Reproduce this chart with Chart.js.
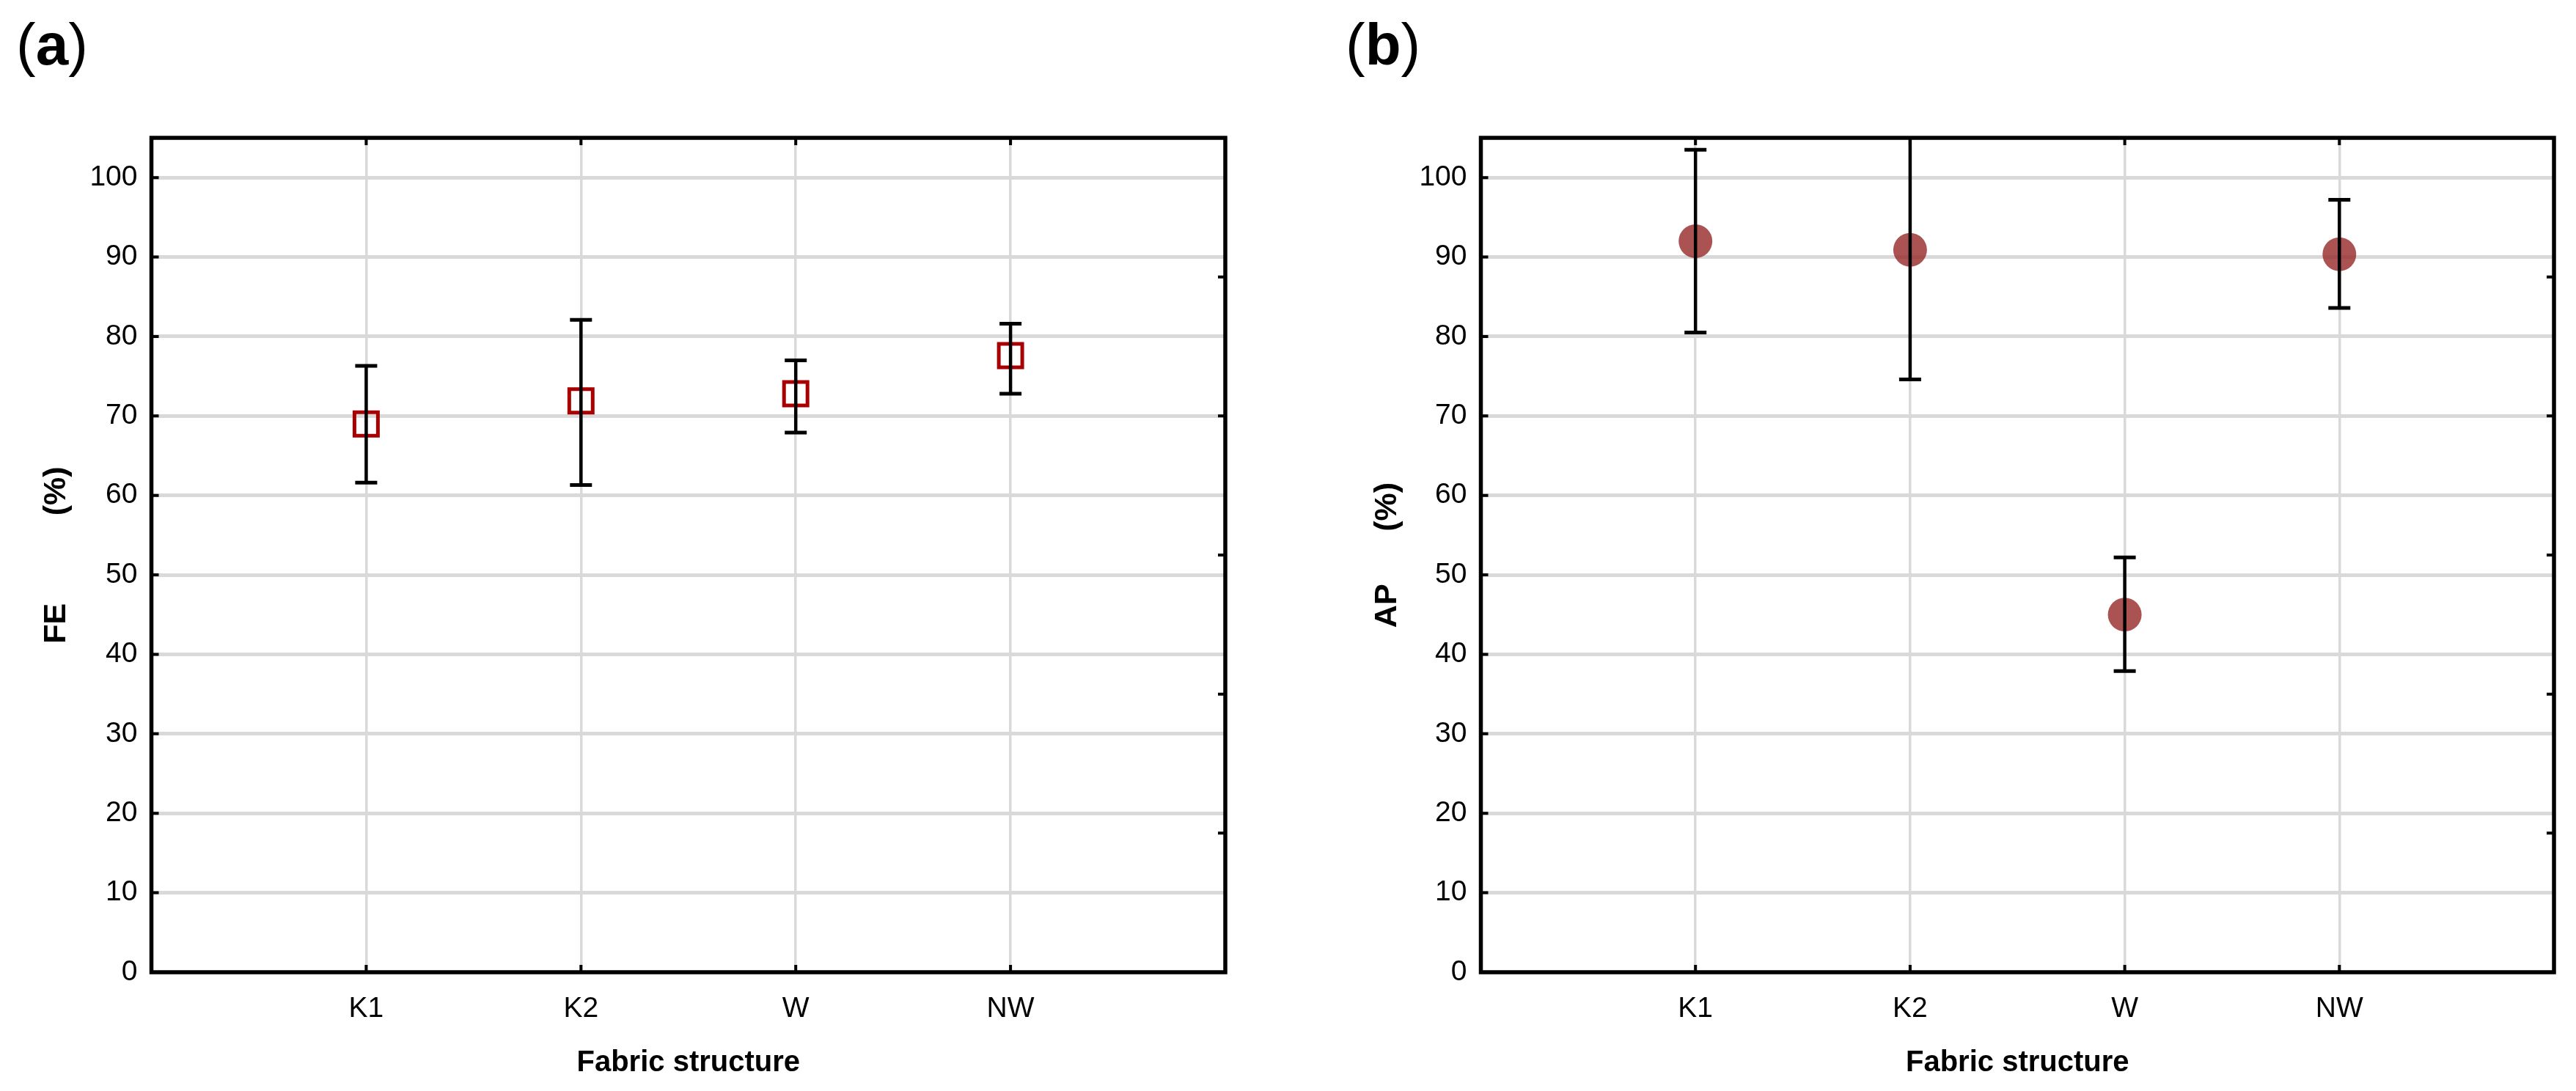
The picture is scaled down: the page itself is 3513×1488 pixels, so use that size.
<!DOCTYPE html>
<html>
<head>
<meta charset="utf-8">
<script src="https://cdn.jsdelivr.net/npm/chart.js@4/dist/chart.umd.min.js"></script>
<style>
  html, body { margin: 0; padding: 0; background: #fff; }
  body { width: 3513px; height: 1488px; position: relative; overflow: hidden; }
  .panel { position: absolute; top: 0; height: 1488px; }
  #wrapA { left: 0; width: 1756px; }
  #wrapB { left: 1756px; width: 1757px; }
  .tag { position: absolute; top: 21px; font-family: "Liberation Sans", Arial, sans-serif; font-size: 80px; line-height: 80px; color: #000; }
  .tag b { font-weight: bold; }
</style>
</head>
<body>
<div class="panel" id="wrapA"><canvas id="chartA"></canvas></div>
<div class="panel" id="wrapB"><canvas id="chartB"></canvas></div>
<div class="tag" style="left:22px">(<b>a</b>)</div>
<div class="tag" style="left:1835px">(<b>b</b>)</div>
<script>
// categories and values
const categories = ["K1", "K2", "W", "NW"];
const feMean  = [69.0, 71.9, 72.8, 77.6];
const feLower = [61.6, 61.3, 67.9, 72.8];
const feUpper = [76.3, 82.1, 77.0, 81.6];
const apMean  = [92.0, 90.9, 45.0, 90.35];
const apLower = [80.5, 74.6, 37.9, 83.6];
const apUpper = [103.5, 107.2, 52.2, 97.2];
const yTicks = [0, 10, 20, 30, 40, 50, 60, 70, 80, 90, 100];
const rightTicks = [17.5, 35, 52.5, 70, 87.5];

const tickFont = { family: "'Liberation Sans Narrow', 'Liberation Sans', Arial, sans-serif", size: 39 };
const titleFont = { family: "'Liberation Sans', Arial, sans-serif", size: 43, weight: "bold", lineHeight: 1 };
const gridColor = "#d9d9d9";

// error bars drawn through the chart's own scales
const errorBars = {
  id: "errorBars",
  afterDatasetsDraw(chart, args, opts) {
    const { ctx, chartArea, scales: { x, y } } = chart;
    ctx.save();
    ctx.beginPath();
    ctx.rect(chartArea.left, chartArea.top, chartArea.width, chartArea.height);
    ctx.clip();
    ctx.strokeStyle = "#000";
    ctx.lineCap = "butt";
    opts.lower.forEach((lo, i) => {
      const px = x.getPixelForValue(i + 1);
      const top = y.getPixelForValue(opts.upper[i]);
      const bot = y.getPixelForValue(lo);
      ctx.lineWidth = 4.5;
      ctx.beginPath();
      ctx.moveTo(px, top);
      ctx.lineTo(px, bot);
      ctx.stroke();
      ctx.lineWidth = 5;
      ctx.beginPath();
      ctx.moveTo(px - 15, top); ctx.lineTo(px + 15, top);
      ctx.moveTo(px - 15, bot); ctx.lineTo(px + 15, bot);
      ctx.stroke();
    });
    ctx.restore();
  }
};

// black frame with inward tick marks
const frame = {
  id: "frame",
  afterDraw(chart) {
    const { ctx, chartArea: a, scales: { x, y } } = chart;
    ctx.save();
    ctx.strokeStyle = "#000";
    ctx.lineWidth = 4;
    ctx.beginPath();
    x.ticks.forEach(t => {
      const px = x.getPixelForValue(t.value);
      ctx.moveTo(px, a.top); ctx.lineTo(px, a.top + 10);
      ctx.moveTo(px, a.bottom); ctx.lineTo(px, a.bottom - 10);
    });
    y.ticks.forEach(t => {
      const py = y.getPixelForValue(t.value);
      ctx.moveTo(a.left, py); ctx.lineTo(a.left + 10, py);
    });
    rightTicks.forEach(v => {
      const py = y.getPixelForValue(v);
      ctx.moveTo(a.right, py); ctx.lineTo(a.right - 10, py);
    });
    ctx.stroke();
    ctx.lineWidth = 5.5;
    ctx.strokeRect(a.left, a.top, a.width, a.height);
    ctx.restore();
  }
};

function makeChart(id, opt) {
  const ctx = document.getElementById(id).getContext("2d");
  return new Chart(ctx, {
    type: "scatter",
    data: {
      datasets: [{
        data: opt.mean.map((v, i) => ({ x: i + 1, y: v })),
        pointStyle: opt.pointStyle,
        pointRadius: opt.radius,
        pointHoverRadius: opt.radius,
        backgroundColor: opt.fill,
        borderColor: opt.stroke,
        borderWidth: opt.borderWidth
      }]
    },
    options: {
      responsive: true,
      maintainAspectRatio: false,
      animation: false,
      layout: { padding: { top: 188, right: opt.padRight, bottom: 0, left: 0 } },
      plugins: {
        legend: { display: false },
        tooltip: { enabled: false },
        errorBars: { lower: opt.lower, upper: opt.upper }
      },
      scales: {
        x: {
          type: "linear",
          min: 0,
          max: 5,
          afterBuildTicks: s => { s.ticks = categories.map((c, i) => ({ value: i + 1 })); },
          afterFit: s => { s.height = 162; },
          ticks: {
            font: tickFont,
            color: "#000",
            padding: 27,
            maxRotation: 0,
            callback: v => categories[v - 1]
          },
          grid: { color: gridColor, lineWidth: 3.5, drawTicks: false },
          border: { display: false },
          title: {
            display: true,
            text: "Fabric structure",
            font: { family: "'Liberation Sans', Arial, sans-serif", size: 40, weight: "bold", lineHeight: 1 },
            color: "#000",
            padding: { top: 0, bottom: 18 }
          }
        },
        y: {
          min: 0,
          max: 105,
          afterBuildTicks: s => { s.ticks = yTicks.map(v => ({ value: v })); },
          afterFit: s => { s.width = opt.axisWidth; },
          ticks: { font: tickFont, color: "#000", padding: 19 },
          grid: { color: gridColor, lineWidth: 5, drawTicks: false },
          border: { display: false },
          title: {
            display: true,
            text: opt.yTitle,
            font: titleFont,
            color: "#000",
            padding: { top: opt.titlePad, bottom: 0 }
          }
        }
      }
    },
    plugins: [errorBars, frame]
  });
}

makeChart("chartA", {
  mean: feMean, lower: feLower, upper: feUpper,
  pointStyle: "rect", radius: 22.6, fill: "rgba(0,0,0,0)", stroke: "#a80000", borderWidth: 5,
  padRight: 85, axisWidth: 206.5, yTitle: "FE          (%)", titlePad: 55.5
});

makeChart("chartB", {
  mean: apMean, lower: apLower, upper: apUpper,
  pointStyle: "circle", radius: 23, fill: "rgba(150,40,40,0.8)", stroke: "rgba(150,40,40,0.8)", borderWidth: 0,
  padRight: 30, axisWidth: 263.5, yTitle: "AP      (%)", titlePad: 114.5
});
</script>
</body>
</html>
